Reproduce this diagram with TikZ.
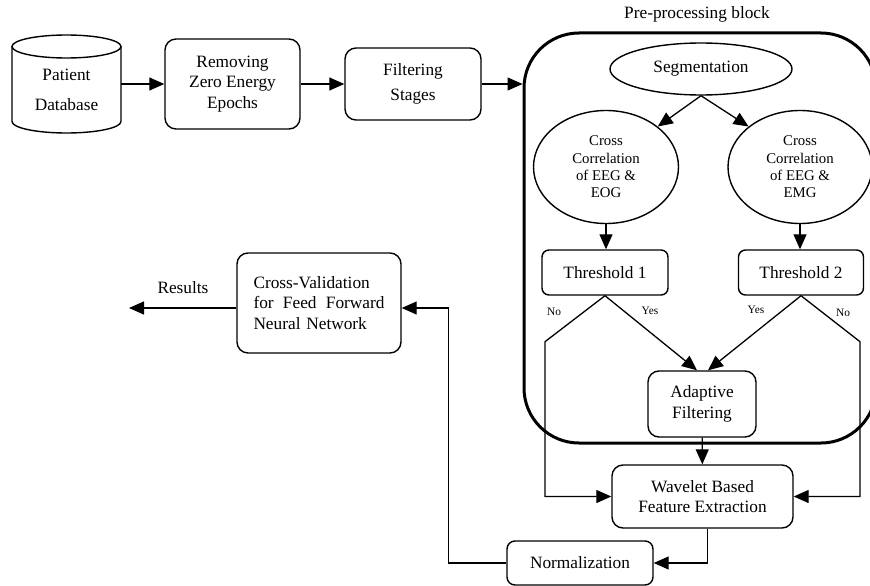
\documentclass[tikz,border=0pt]{standalone}
\usepackage{fontspec}
\setmainfont{Liberation Serif}
\usetikzlibrary{shapes.geometric,arrows.meta}
\begin{document}
\begin{tikzpicture}
            [x=1pt,y=-1pt,
            font=\fontsize{17.3}{20.5}\selectfont,
            box/.style ={draw,line width=1.4pt,rounded corners=11pt,inner sep=0pt,align=center},
            oval/.style ={draw,line width=1.4pt,ellipse,inner sep=0pt,align=center},
            small/.style ={font=\fontsize{14.8}{17.3}\selectfont},
            tiny/.style ={font=\fontsize{11.4}{13}\selectfont},
            arr/.style ={line width=1.3pt,-{Triangle[length=15pt,width=13pt]}},
            line/.style ={line width=1.4pt}]
            \useasboundingbox (0,0) rectangle (870,586);
            \node[inner sep=0pt,minimum width=109pt,align=center] (db) at (66.5,90){Patient\\[9pt]Database};
            \draw[line] ([yshift=43.5pt]db.center) ellipse [x radius=54.5pt,y radius=11.5pt];
            \draw[line] ([xshift=-54.5pt,yshift=43.5pt]db.center) -- ([xshift=-54.5pt,yshift=-31.5pt]db.center) arc[start angle=180,end angle=360,x radius=54.5pt,y radius=11.5pt] -- ([xshift=54.5pt,yshift=43.5pt]db.center);
            \node[box,minimum width=135pt,minimum height=90pt] (rem) at (232.5,84){Removing\\Zero Energy\\Epochs};
            \node[box,minimum width=136pt,minimum height=72pt] (filt) at (413,84){Filtering\\[4pt]Stages};
            \node[draw,line width=3pt,rounded corners=55pt,minimum width=352pt,minimum height=410pt] (block) at (700,238){};
            \node (blocklabel) at (697,14){Pre-processing block};
            \node[oval,minimum width=182pt,minimum height=52pt] (seg) at (701,69){Segmentation};
            \node[oval,small,minimum width=145pt,minimum height=113pt] (cceog) at (606,167){Cross\\Correlation\\of EEG \&\\EOG};
            \node[oval,small,minimum width=144pt,minimum height=113pt] (ccemg) at (800,167){Cross\\Correlation\\of EEG \&\\EMG};
            \node[box,rounded corners=7pt,minimum width=126pt,minimum height=45pt] (th1) at (605,272.5){Threshold 1};
            \node[box,rounded corners=7pt,minimum width=125pt,minimum height=45pt] (th2) at (801,272.5){Threshold 2};
            \node[box,minimum width=108pt,minimum height=66pt] (adapt) at (702,404){Adaptive\\Filtering};
            \node[box,minimum width=181pt,minimum height=63pt] (wave) at (702.5,496.5){Wavelet Based\\Feature Extraction};
            \node[box,rounded corners=8pt,minimum width=146pt,minimum height=44pt] (norm) at (580,563){Normalization};
            \node[box,align=left,text width=131pt,inner xsep=16.5pt,minimum height=100pt] (cv) at (319,303){Cross-Validation\\for\hfill Feed\hfill Forward\\Neural Network\\[-8pt]};
            \coordinate (res) at (129,308);
            \node (reslabel) at (183,288){Results};
            \node[tiny] (no1) at (554,312){No};
            \node[tiny] (yes1) at (650,311){Yes};
            \node[tiny] (yes2) at (756,310){Yes};
            \node[tiny] (no2) at (843,313){No};
            \draw[arr] ([yshift=6pt]db.east) -- (rem.west);
            \draw[arr] (rem) -- (filt);
            \draw[arr] (filt.east) -- (filt.east -| block.west);
            \draw[arr] (seg.south) -- (cceog.north east);
            \draw[arr] (seg.south) -- (ccemg.north west);
            \draw[arr] (cceog) -- (cceog |- th1.north);
            \draw[arr] (ccemg) -- (ccemg |- th2.north);
            \draw[arr] (th1.south) -- ([xshift=-5pt]adapt.north);
            \draw[arr] (th2.south) -- ([xshift=6pt]adapt.north);
            \draw[arr] (th1.south) -- ++(-60,46) |- (wave.west);
            \draw[arr] (th2.south) -- ++(59,46) |- (wave.east);
            \draw[arr] (adapt) -- (wave);
            \draw[arr] ([xshift=5pt]wave.south) |- (norm.east);
            \draw[arr] (norm.west) -- ++(-58,0) |- ([yshift=-5pt]cv.east);
            \draw[arr] ([yshift=-5pt]cv.west) -- (res);
        \end{tikzpicture}
\end{document}
